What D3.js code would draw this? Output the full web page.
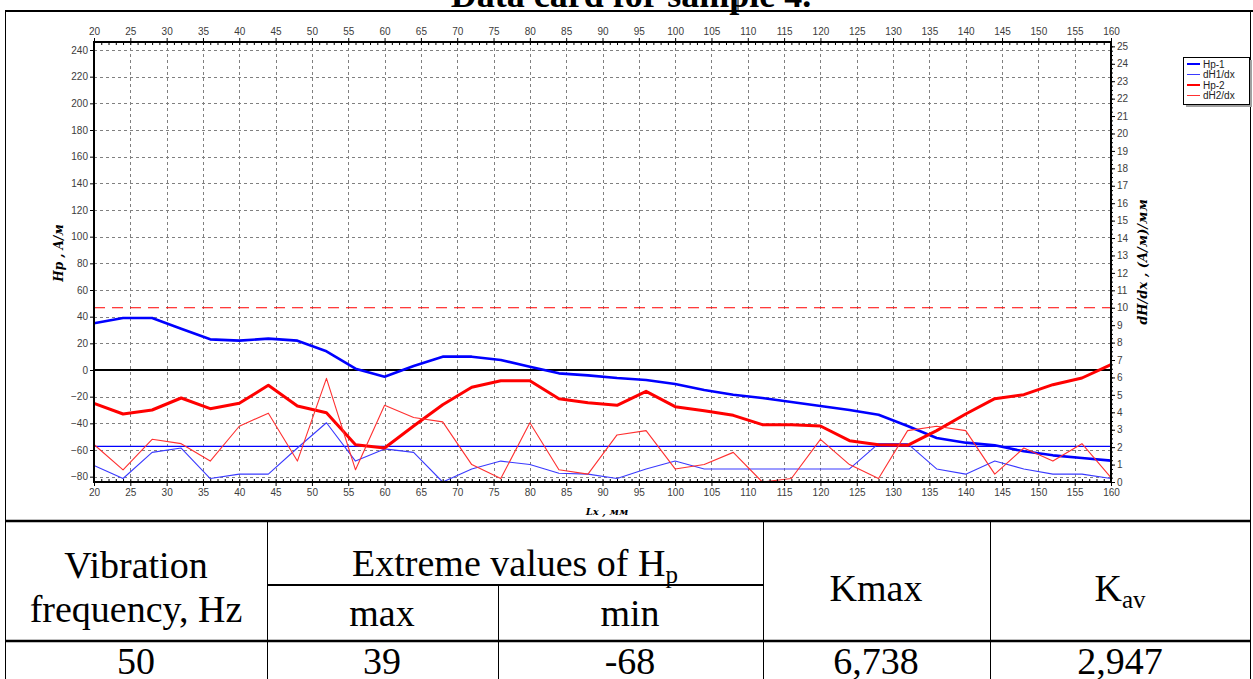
<!DOCTYPE html>
<html>
<head>
<meta charset="utf-8">
<script src="https://cdn.jsdelivr.net/npm/d3@7/dist/d3.min.js"></script>
<style>
    body { margin: 0; background: #fff; }
    svg { display: block; }
    .tick text { font-family: "Liberation Sans", Arial, sans-serif; font-size: 10px; fill: #3c3c3c; }
    .tick line { stroke: #000; }
    .domain { display: none; }
    .cell { font-family: "Liberation Serif", "Times New Roman", serif; font-size: 38px; fill: #000; }
    .axis-title { font-family: "DejaVu Serif", serif; font-weight: bold; font-style: italic; fill: #000; }
</style>
</head>
<body>
<div id="card"></div>
<script>

const width = 1253;
const height = 679;

/**
* */
const lx = [20, 24, 28, 32, 36, 40, 44, 48, 52, 56, 60, 64, 68, 72, 76, 80, 84, 88,
    92, 96, 100, 104, 108, 112, 116, 120, 124, 128, 132, 136, 140, 144, 148, 152, 156, 160];

// Hp-1, A/м (left axis)
const hp1 = [35, 39, 39, 31, 23, 22, 23.5, 22, 14, 1, -5, 3, 10, 10, 7.5, 2.5, -2.5, -4,
    -6, -7.5, -10.5, -15, -18.5, -21, -24, -27, -30, -33.5, -42, -51, -54.5, -56.5, -61, -64, -66, -68];

// dH1/dx, (A/м)/мм (right axis)
const dh1 = [0.95, 0.2, 1.7, 1.95, 0.2, 0.45, 0.45, 1.95, 3.4, 1.2, 1.9, 1.7, 0, 0.75, 1.2, 1.0, 0.5, 0.45,
    0.2, 0.75, 1.2, 0.75, 0.75, 0.75, 0.75, 0.75, 0.75, 2.2, 2.2, 0.75, 0.45, 1.2, 0.75, 0.45, 0.45, 0.2];

// Hp-2, A/м (left axis)
const hp2 = [-25, -33, -30, -21, -29, -25, -11.5, -27, -32, -56, -58.5, -42, -26, -13, -8, -8, -21.5, -24.5,
    -26.5, -16, -27.5, -30.5, -34, -41, -41, -42, -53, -56, -56.5, -45.5, -33, -21.5, -18.5, -11, -6, 4];

// dH2/dx, (A/м)/мм (right axis)
const dh2 = [2.15, 0.7, 2.45, 2.2, 1.2, 3.2, 3.95, 1.2, 5.95, 0.7, 4.4, 3.7, 3.45, 1.0, 0.2, 3.4, 0.7, 0.45,
    2.7, 2.95, 0.75, 1.0, 1.7, 0, 0.2, 2.45, 1.0, 0.2, 2.95, 3.2, 2.95, 0.45, 1.95, 1.2, 2.2, 0.25];

// horizontal limit lines on the dH/dx axis
const limitValues = [10, 2.05];

const seriesNames = ["Hp-1", "dH1/dx", "Hp-2", "dH2/dx"];

const xTickValues = [20, 25, 30, 35, 40, 45, 50, 55, 60, 65, 70, 75, 80, 85, 90, 95, 100, 105,
    110, 115, 120, 125, 130, 135, 140, 145, 150, 155, 160];
const leftTickValues = [-80, -60, -40, -20, 0, 20, 40, 60, 80, 100, 120, 140, 160, 180, 200, 220, 240];
const rightTickValues = [0, 1, 2, 3, 4, 5, 6, 7, 8, 9, 10, 11, 12, 13, 14, 15, 16, 17, 18, 19, 20, 21, 22, 23, 24, 25];

// table under the chart
const tableHeadTop = ["Vibration", "Extreme values of H", "Kmax", "K"];
const tableHeadSub = ["frequency, Hz", "max", "min"];
const tableRow = ["50", "39", "-68", "6,738", "2,947"];

/**
* SCALES
* */
const plot = { left: 94, right: 1111, top: 42, bottom: 482 };

const x = d3.scaleLinear().domain([20, 160]).range([plot.left, plot.right]);
const yL = d3.scaleLinear().domain([-84, 246]).range([plot.bottom, plot.top]);
const yR = d3.scaleLinear().domain([0, 25.25]).range([plot.bottom, plot.top]);

const svg = d3.select("#card")
    .append("svg")
    .attr("width", width)
    .attr("height", height);

svg.append("rect").attr("width", width).attr("height", height).attr("fill", "#fff");

/**
* TITLE + CARD BORDERS
* */
svg.append("text")
    .attr("x", 631)
    .attr("y", 7)
    .attr("text-anchor", "middle")
    .attr("font-family", "Liberation Serif, serif")
    .attr("font-weight", "bold")
    .attr("font-size", 36)
    .text("Data card for sample 4.");

const border = svg.append("g").attr("stroke", "#000").attr("fill", "none");
border.append("line").attr("x1", 5).attr("x2", 1253).attr("y1", 11).attr("y2", 11).attr("stroke-width", 2);
border.append("line").attr("x1", 738).attr("x2", 738).attr("y1", 0).attr("y2", 11);
border.append("line").attr("x1", 5.5).attr("x2", 5.5).attr("y1", 10).attr("y2", 679);
border.append("line").attr("x1", 1250.5).attr("x2", 1250.5).attr("y1", 10).attr("y2", 679);

/**
* GRID
* */
const grid = svg.append("g")
    .attr("stroke", "#808080")
    .attr("stroke-dasharray", "3,3")
    .attr("stroke-width", 1);

grid.selectAll(".vgrid")
    .data(xTickValues.slice(1, -1))
    .join("line")
    .attr("x1", d => Math.round(x(d)) + 0.5)
    .attr("x2", d => Math.round(x(d)) + 0.5)
    .attr("y1", plot.top)
    .attr("y2", plot.bottom);

grid.selectAll(".hgrid")
    .data(leftTickValues.filter(d => d !== 0))
    .join("line")
    .attr("x1", plot.left)
    .attr("x2", plot.right)
    .attr("y1", d => Math.round(yL(d)) + 0.5)
    .attr("y2", d => Math.round(yL(d)) + 0.5);

/**
* LIMIT LINES + ZERO LINE
* */
svg.append("line")
    .attr("x1", plot.left).attr("x2", plot.right)
    .attr("y1", yR(limitValues[0])).attr("y2", yR(limitValues[0]))
    .attr("stroke", "#ff0000")
    .attr("stroke-dasharray", "11,7");

svg.append("line")
    .attr("x1", plot.left).attr("x2", plot.right)
    .attr("y1", yR(limitValues[1])).attr("y2", yR(limitValues[1]))
    .attr("stroke", "#0000ff")
    .attr("stroke-width", 1.2);

svg.append("line")
    .attr("x1", plot.left).attr("x2", plot.right)
    .attr("y1", yL(0)).attr("y2", yL(0))
    .attr("stroke", "#000")
    .attr("stroke-width", 2);

/**
* SERIES
* */
const lineL = d3.line().x((d, i) => x(lx[i])).y(d => yL(d));
const lineR = d3.line().x((d, i) => x(lx[i])).y(d => yR(d));

const series = [
    { name: seriesNames[0], path: lineL(hp1), color: "#0000ff", w: 2.6 },
    { name: seriesNames[1], path: lineR(dh1), color: "#3a3aff", w: 1.1 },
    { name: seriesNames[2], path: lineL(hp2), color: "#ff0000", w: 3 },
    { name: seriesNames[3], path: lineR(dh2), color: "#ff3030", w: 1.1 }
];

svg.append("g")
    .selectAll("path")
    .data(series)
    .join("path")
    .attr("d", d => d.path)
    .attr("fill", "none")
    .attr("stroke", d => d.color)
    .attr("stroke-width", d => d.w)
    .attr("stroke-linejoin", "round");

/**
* AXES
* */
// minor ticks, pointing inside the frame
svg.append("g")
    .attr("transform", `translate(0,${plot.bottom})`)
    .call(d3.axisBottom(x).tickValues(d3.range(20, 161, 1)).tickSize(-3).tickFormat(""));
svg.append("g")
    .attr("transform", `translate(0,${plot.top})`)
    .call(d3.axisTop(x).tickValues(d3.range(20, 161, 1)).tickSize(-3).tickFormat(""));
svg.append("g")
    .attr("transform", `translate(${plot.right},0)`)
    .call(d3.axisRight(yR).tickValues(d3.range(0, 25.01, 0.25)).tickSize(2).tickFormat(""));

svg.append("g")
    .attr("transform", `translate(0,${plot.bottom})`)
    .call(d3.axisBottom(x).tickValues(xTickValues).tickSize(4).tickPadding(3));
svg.append("g")
    .attr("transform", `translate(0,${plot.top})`)
    .call(d3.axisTop(x).tickValues(xTickValues).tickSize(4).tickPadding(3));
svg.append("g")
    .attr("transform", `translate(${plot.left},0)`)
    .call(d3.axisLeft(yL).tickValues(leftTickValues).tickSize(4).tickPadding(2));
svg.append("g")
    .attr("transform", `translate(${plot.right},0)`)
    .call(d3.axisRight(yR).tickValues(rightTickValues).tickSize(4).tickPadding(2));

// frame
svg.append("rect")
    .attr("x", plot.left).attr("y", plot.top)
    .attr("width", plot.right - plot.left).attr("height", plot.bottom - plot.top)
    .attr("fill", "none")
    .attr("stroke", "#000")
    .attr("stroke-width", 2);

// axis titles
svg.append("text")
    .attr("class", "axis-title")
    .attr("font-size", 12)
    .attr("text-anchor", "middle")
    .attr("transform", "translate(63,253) rotate(-90)")
    .text("Hp , A/м");

svg.append("text")
    .attr("class", "axis-title")
    .attr("font-size", 13)
    .attr("text-anchor", "middle")
    .attr("transform", "translate(1147,262) rotate(-90)")
    .text("dH/dx , (A/м)/мм");

svg.append("text")
    .attr("class", "axis-title")
    .attr("font-size", 10)
    .attr("text-anchor", "middle")
    .attr("x", 607)
    .attr("y", 515)
    .text("Lx , мм");

/**
* LEGEND
* */
const legend = svg.append("g").attr("transform", "translate(1183,57)");
legend.append("rect").attr("x", 3).attr("y", 3).attr("width", 66).attr("height", 47).attr("fill", "#a0a0a0");
legend.append("rect").attr("x", 0.5).attr("y", 0.5).attr("width", 66).attr("height", 47)
    .attr("fill", "#fff").attr("stroke", "#000");

const legendItem = legend.selectAll(".item")
    .data(series)
    .join("g")
    .attr("transform", (d, i) => `translate(4,${7 + i * 10.5})`);

legendItem.append("line")
    .attr("x1", 0).attr("x2", 13)
    .attr("stroke", d => d.color)
    .attr("stroke-width", d => d.w > 2 ? 2 : 1);

legendItem.append("text")
    .attr("x", 16)
    .attr("dy", "0.35em")
    .attr("font-family", "Liberation Sans, Arial, sans-serif")
    .attr("font-size", 10)
    .attr("fill", "#222")
    .text(d => d.name);

/**
* TABLE
* */
const table = svg.append("g").attr("stroke", "#000");
table.append("line").attr("x1", 5).attr("x2", 1251).attr("y1", 521).attr("y2", 521).attr("stroke-width", 2.5);
table.append("line").attr("x1", 5).attr("x2", 1251).attr("y1", 641).attr("y2", 641).attr("stroke-width", 2.5);
table.append("line").attr("x1", 267).attr("x2", 763).attr("y1", 585).attr("y2", 585).attr("stroke-width", 2);
[267.5, 763.5, 990.5].forEach(cx => {
    table.append("line").attr("x1", cx).attr("x2", cx).attr("y1", 521).attr("y2", 679);
});
table.append("line").attr("x1", 498.5).attr("x2", 498.5).attr("y1", 585).attr("y2", 679);

const colCenters = [136, 382, 630, 876, 1120];

svg.append("text").attr("class", "cell").attr("text-anchor", "middle")
    .attr("x", colCenters[0]).attr("y", 578).text(tableHeadTop[0]);
svg.append("text").attr("class", "cell").attr("text-anchor", "middle")
    .attr("x", colCenters[0]).attr("y", 622).text(tableHeadSub[0]);

const ext = svg.append("text").attr("class", "cell").attr("text-anchor", "middle")
    .attr("x", 515).attr("y", 576);
ext.append("tspan").text(tableHeadTop[1]);
ext.append("tspan").attr("font-size", 25).attr("dy", 7).text("p");

svg.append("text").attr("class", "cell").attr("text-anchor", "middle")
    .attr("x", colCenters[1]).attr("y", 626).text(tableHeadSub[1]);
svg.append("text").attr("class", "cell").attr("text-anchor", "middle")
    .attr("x", colCenters[2]).attr("y", 626).text(tableHeadSub[2]);

svg.append("text").attr("class", "cell").attr("text-anchor", "middle")
    .attr("x", colCenters[3]).attr("y", 601).text(tableHeadTop[2]);

const kav = svg.append("text").attr("class", "cell").attr("text-anchor", "middle")
    .attr("x", colCenters[4]).attr("y", 601);
kav.append("tspan").text(tableHeadTop[3]);
kav.append("tspan").attr("font-size", 25).attr("dy", 7).text("av");

svg.selectAll(".val")
    .data(tableRow)
    .join("text")
    .attr("class", "cell")
    .attr("text-anchor", "middle")
    .attr("x", (d, i) => colCenters[i])
    .attr("y", 674)
    .text(d => d);

</script>
</body>
</html>
